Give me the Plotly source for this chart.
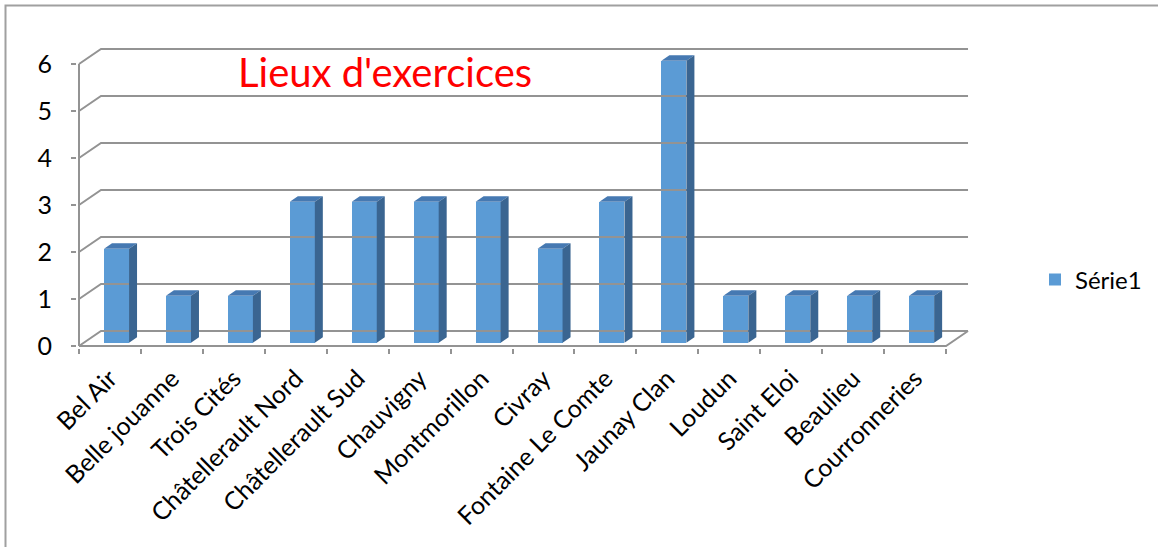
import plotly.graph_objects as go

# ---- data ----
categories = ["Bel Air", "Belle jouanne", "Trois Cités", "Châtellerault Nord",
              "Châtellerault Sud", "Chauvigny", "Montmorillon", "Civray",
              "Fontaine Le Comte", "Jaunay Clan", "Loudun", "Saint Eloi",
              "Beaulieu", "Courronneries"]
values = [2, 1, 1, 3, 3, 3, 3, 2, 3, 6, 1, 1, 1, 1]
y_ticks = [0, 1, 2, 3, 4, 5, 6]
series_name = "Série1"
title_text = "Lieux d'exercices"

# ---- pseudo-3D geometry (in axis units) ----
W, H = 1158, 547
ux, uy = 61.93, 47.0             # px per category / per unit
x0px, y0px = 79, 346              # pixel of (x=-0.5, y=0)
pl, pr, pt, pb = 77, 972, 44, 348  # plot area in px
xr = [(pl - x0px) / ux - 0.5, (pr - x0px) / ux - 0.5]
yr = [(y0px - pb) / uy, (y0px - pt) / uy]

gdx, gdy = 22 / ux, 15 / uy       # back wall offset
ddx, ddy = 8 / ux, 5.5 / uy       # bar depth
bar_off, bar_w = -0.096, 0.404
bar_base = 3.3 / uy
n = len(categories)
xs = list(range(n))

# grid lines (back wall + left diagonal)
gx, gy = [], []
for t in y_ticks:
    gx += [-0.5, -0.5 + gdx, n - 0.5 + gdx, None]
    gy += [t, t + gdy, t + gdy, None]
# floor front edge + right diagonal + y axis line
ax_x = [-0.5, n - 0.5, n - 0.5 + gdx, None, -0.5, -0.5]
ax_y = [0, 0, gdy, None, 0, y_ticks[-1]]

tx, ty, sx, sy = [], [], [], []
for i, v in enumerate(values):
    L = i + bar_off
    R = L + bar_w
    B = bar_base
    T = bar_base + v
    tx += [L, R, R + ddx, L + ddx, L, None]
    ty += [T, T, T + ddy, T + ddy, T, None]
    sx += [R, R + ddx, R + ddx, R, R, None]
    sy += [B, B + ddy, T + ddy, T, B, None]

grid_col = "#939393"
fig = go.Figure()
fig.add_trace(go.Scatter(x=gx, y=gy, mode="lines", line=dict(color=grid_col, width=2),
                         showlegend=False, hoverinfo="skip"))
fig.add_trace(go.Bar(x=xs, y=values, base=bar_base, width=bar_w, offset=bar_off,
                     name=series_name, marker=dict(color="#5B9BD5", line=dict(width=0)),
                     showlegend=True, hovertext=categories, hoverinfo="text+y"))
fig.add_trace(go.Scatter(x=tx, y=ty, mode="lines", fill="toself", fillcolor="#4679B2",
                         line=dict(width=0, color="#4679B2"), showlegend=False, hoverinfo="skip"))
fig.add_trace(go.Scatter(x=sx, y=sy, mode="lines", fill="toself", fillcolor="#3A6591",
                         line=dict(width=0, color="#3A6591"), showlegend=False, hoverinfo="skip"))
fig.add_trace(go.Scatter(x=ax_x, y=ax_y, mode="lines", line=dict(color=grid_col, width=2),
                         showlegend=False, hoverinfo="skip"))

font_family = "Lato, 'Open Sans', sans-serif"

def ppx(px):
    return (px - pl) / (pr - pl)

def ppy(py):
    return (pb - py) / (pb - pt)

fig.update_layout(
    width=W, height=H,
    margin=dict(l=pl, r=W - pr, t=pt, b=H - pb, pad=0),
    paper_bgcolor="white", plot_bgcolor="rgba(0,0,0,0)",
    font=dict(family=font_family, size=25, color="#000000"),
    title=dict(text=title_text, font=dict(family=font_family, size=40, color="#FF0000"),
               xref="container", yref="container", x=238 / W, xanchor="left",
               y=1 - 73 / H, yanchor="middle"),
    legend=dict(xref="container", yref="container", x=1035 / W, xanchor="left",
                y=1 - 280 / H, yanchor="middle", font=dict(size=24),
                bgcolor="rgba(0,0,0,0)"),
    xaxis=dict(range=xr, tickmode="array", tickvals=xs, ticktext=categories,
               tickangle=-45, ticks="", showgrid=False, zeroline=False, showline=False,
               fixedrange=True, ticklabelstandoff=10,
               minor=dict(tickmode="array", tickvals=[i - 0.5 for i in range(n + 1)],
                          ticks="outside", ticklen=5, tickcolor=grid_col, tickwidth=2,
                          showgrid=False)),
    yaxis=dict(range=yr, tickmode="array", tickvals=y_ticks, ticks="outside",
               ticklen=5, tickcolor=grid_col, tickwidth=2, showgrid=False,
               zeroline=False, showline=False, ticklabelstandoff=14, fixedrange=True),
    shapes=[dict(type="rect", xref="paper", yref="paper",
                 x0=ppx(5.5), x1=ppx(1170), y0=ppy(560), y1=ppy(5.5),
                 line=dict(color="#A0A0A0", width=2), fillcolor="rgba(0,0,0,0)",
                 layer="below")],
    bargap=0,
)

fig.write_html("out.html")
